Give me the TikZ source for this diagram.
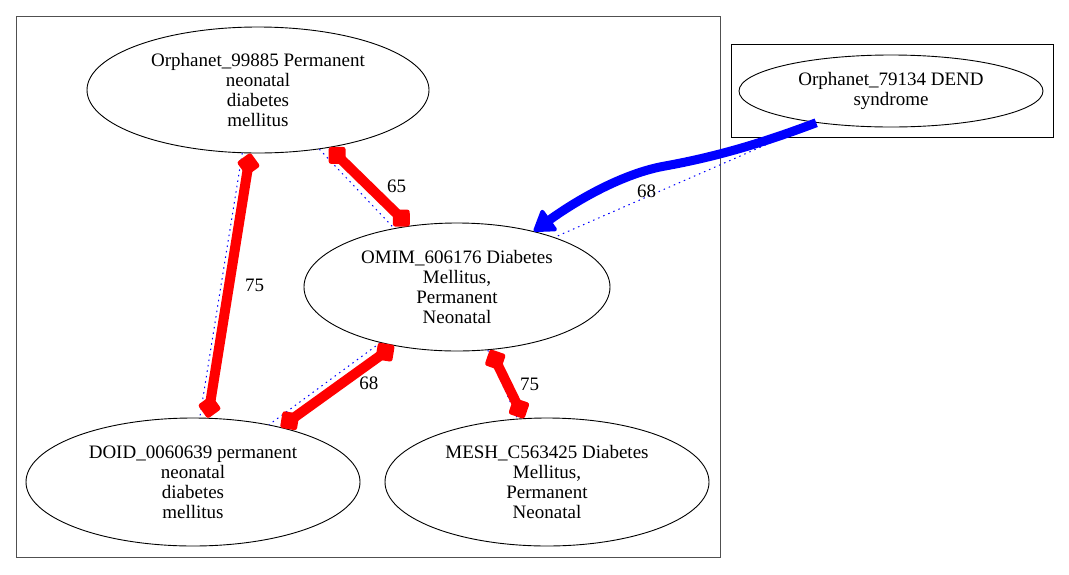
\documentclass[tikz,border=0pt]{standalone}
\usepackage{fontspec}
\setmainfont{Liberation Serif}
\usepackage{tikz}
\usetikzlibrary{shapes.geometric, arrows.meta, positioning}
\definecolor{edgered}{RGB}{255,0,0}
\definecolor{edgeblue}{RGB}{0,0,255}
\definecolor{clustergray}{RGB}{80,80,80}
\tikzset{
  term/.style={ellipse, draw=black, line width=0.9pt, inner sep=0pt,
    align=center, font=\fontsize{19}{20}\selectfont},
  redlink/.style={{Diamond[length=24pt,width=24pt,round,line width=5pt]}-{Diamond[length=24pt,width=24pt,round,line width=5pt]},
    line width=10pt, color=edgered},
  bluelink/.style={-{Triangle[length=22pt,width=28pt,round,line width=4pt]}, line width=9pt, color=edgeblue},
  dotlink/.style={color=edgeblue, line width=1pt, dash pattern=on 1.5pt off 4pt},
  score/.style={font=\fontsize{19}{20}\selectfont, inner sep=1pt, text=black}
}
\begin{document}
\begin{tikzpicture}[x=1pt, y=-1pt]
  \useasboundingbox (0,0) rectangle (1069,574);

  % Clusters
  \draw[clustergray, line width=1pt] (16,16) rectangle (720,557);
  \draw[black, line width=1pt] (731,44) rectangle (1053,137);

  % Terms (left cluster)
  \node[term, minimum width=342pt, minimum height=126pt] (orph99885) at (258,90)
    {Orphanet\_99885 Permanent\\neonatal\\diabetes\\mellitus};
  \node[term, minimum width=306pt, minimum height=128pt] (omim) at (457,287)
    {OMIM\_606176 Diabetes\\Mellitus,\\Permanent\\Neonatal};
  \node[term, minimum width=334pt, minimum height=128pt] (doid) at (193,482)
    {DOID\_0060639 permanent\\neonatal\\diabetes\\mellitus};
  \node[term, minimum width=324pt, minimum height=128pt] (mesh) at (547,482)
    {MESH\_C563425 Diabetes\\Mellitus,\\Permanent\\Neonatal};

  % Term (right cluster)
  \node[term, minimum width=304pt, minimum height=72pt] (orph79134) at (891,91)
    {Orphanet\_79134 DEND\\syndrome};

  % Dotted links
  \draw[dotlink] (orph99885.-104) -- (doid.84);
  \draw[dotlink] (orph99885.-44) -- (omim.137);
  \draw[dotlink] (omim.-144) -- (doid.37);
  \draw[dotlink] (omim.-64) -- (mesh.115);
  \draw[dotlink] (orph79134.-157) -- (omim.27);

  % Scored links
  \draw[redlink] (orph99885.-97) -- node[score, right=10pt] {75} (doid.77);
  \draw[redlink] (orph99885.-39) -- node[score, right=12pt] {65} (omim.128);
  \draw[redlink] (omim.-137) -- node[score, right=16pt, yshift=3pt] {68} (doid.32);
  \draw[redlink] (omim.-62) -- node[score, right=7pt] {75} (mesh.110);
  \draw[bluelink] (orph79134.-157) .. controls (765,142) and (720,156) .. (665,166)
    .. controls (625,173) and (580,198) .. node[score, pos=0.15, below=9pt] {68} (omim.36);
\end{tikzpicture}
\end{document}
